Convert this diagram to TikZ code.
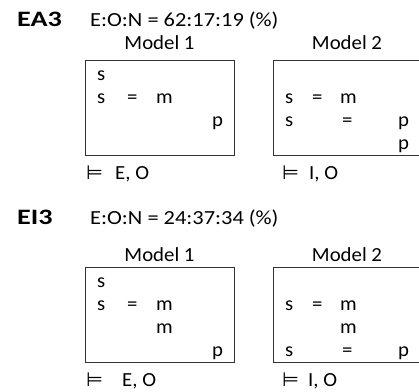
\documentclass[tikz,border=0pt]{standalone}
\usepackage{fontspec}
\setmainfont{Carlito}[FakeStretch=1.04]
\newfontfamily\ratiofont{Carlito}[FakeStretch=1.12]
\newfontfamily\headfont{Carlito}[FakeStretch=1.28]
\newfontfamily\symfont{DejaVu Sans}

\begin{document}
\begin{tikzpicture}[x=1pt,y=-1pt,
  txt/.style={anchor=base west, inner sep=0pt, font=\fontsize{20}{24}\selectfont},
  ratio/.style={anchor=base west, inner sep=0pt, font=\ratiofont\fontsize{20}{24}\selectfont},
  head/.style={anchor=base west, inner sep=0pt, font=\headfont\fontsize{22}{26}\selectfont\bfseries},
  title/.style={anchor=base, inner sep=0pt, font=\fontsize{20}{24}\selectfont},
  turn/.style={anchor=base west, inner sep=0pt, font=\symfont\fontsize{19.5}{23}\selectfont},
  modelbox/.style={draw=black!80, line width=1.2pt, anchor=north west,
    minimum width=149pt, minimum height=95pt, inner sep=0pt}]
\useasboundingbox (0,0) rectangle (419,391);
\clip (0,0) rectangle (419,391);
\begin{scope}
\node[head] (ea3) at (17,26) {EA3};
\node[ratio] (ratioA) at (90,26) {E:O:N = 62:17:19 (\%)};
\node[title] (modA1) at (159.5,49) {Model 1};
\node[title] (modA2) at (347,49) {Model 2};
\node[modelbox] (boxA1) at (85,60) {};
\node[modelbox] (boxA2) at (273,60) {};
% model 1
\node[txt] (a1s1) at (97,80) {s};
\node[txt] (a1s2) at (97,103) {s};
\node[txt] (a1eq) at (127,103) {=};
\node[txt] (a1m) at (156,103) {m};
\node[txt] (a1p) at (212,126) {p};
% model 2
\node[txt] (a2s1) at (285,103) {s};
\node[txt] (a2eq1) at (312,103) {=};
\node[txt] (a2m) at (340,103) {m};
\node[txt] (a2s2) at (285,126) {s};
\node[txt] (a2eq2) at (342,126) {=};
\node[txt] (a2p1) at (398,126) {p};
\node[txt] (a2p2) at (398,149) {p};
\node[turn] (tA1) at (86,179) {⊨};
\node[txt] (entA1) at (115,179) {E, O};
\node[turn] (tA2) at (282,179) {⊨};
\node[txt] (entA2) at (309,179) {I, O};
\end{scope}
\begin{scope}[shift={(0,207)}]
\node[head] (ei3) at (17,17) {EI3};
\node[ratio] (ratioI) at (90,17) {E:O:N = 24:37:34 (\%)};
\node[title] (modI1) at (159.5,54) {Model 1};
\node[title] (modI2) at (347,54) {Model 2};
\node[modelbox] (boxI1) at (85,60) {};
\node[modelbox] (boxI2) at (273,60) {};
% model 1
\node[txt] (i1s1) at (97,80) {s};
\node[txt] (i1s2) at (97,103) {s};
\node[txt] (i1eq) at (127,103) {=};
\node[txt] (i1m1) at (156,103) {m};
\node[txt] (i1m2) at (156,126) {m};
\node[txt] (i1p) at (212,149) {p};
% model 2
\node[txt] (i2s1) at (285,103) {s};
\node[txt] (i2eq1) at (312,103) {=};
\node[txt] (i2m1) at (340,103) {m};
\node[txt] (i2m2) at (340,126) {m};
\node[txt] (i2s2) at (285,149) {s};
\node[txt] (i2eq2) at (342,149) {=};
\node[txt] (i2p) at (398,149) {p};
\node[turn] (tI1) at (86,179) {⊨};
\node[txt] (entI1) at (122,179) {E, O};
\node[turn] (tI2) at (282,179) {⊨};
\node[txt] (entI2) at (308,179) {I, O};
\end{scope}
\end{tikzpicture}
\end{document}
